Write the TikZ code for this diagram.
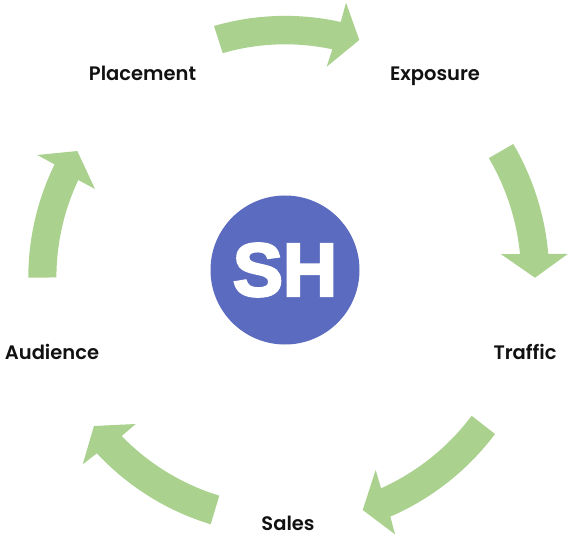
\documentclass[tikz,border=0pt]{standalone}
\usepackage{fontspec}
\setmainfont{Poppins SemiBold}[Ligatures=NoCommon]
\newfontfamily\shfont{Liberation Sans}[BoldFeatures={FakeBold=3.5}]
\definecolor{arrowgreen}{HTML}{AAD28E}
\definecolor{hubblue}{HTML}{5B6BBF}
\definecolor{labelink}{HTML}{111111}
\tikzset{
  cyclearrow/.style={fill=arrowgreen,draw=none},
  steplabel/.style={text=labelink,font=\fontsize{19.5}{24}\selectfont,inner sep=0pt,anchor=base},
  hub/.style={circle,fill=hubblue,draw=none,minimum size=149pt,inner sep=0pt,text=white,font=\shfont\fontsize{75}{80}\selectfont\bfseries}
}
\begin{document}
\begin{tikzpicture}[x=1pt,y=-1pt]
\useasboundingbox (0,0) rectangle (570,540);
\fill[white] (0,0) rectangle (570,540);
% top arrow, centre (285,270)
\fill[cyclearrow] (214,26) arc[start angle=253.8,end angle=282.6,radius=255]
  -- (346,2.7) -- (359.3,40) -- (326.7,66.7) -- (332.3,49.3)
  arc[start angle=282.1,end angle=253.9,radius=225] -- cycle;
% right arrow, centre (286,277)
\fill[cyclearrow] (513.3,144) arc[start angle=-30.3,end angle=-5,radius=263.3]
  -- (567.7,254) -- (535,277.7) -- (500.7,254) -- (520,254)
  arc[start angle=-5.6,end angle=-30.4,radius=234.8] -- cycle;
% lower right arrow
\fill[cyclearrow] (495,434) arc[start angle=36.9,end angle=66.5,radius=261]
  -- (395,534.3) -- (362.7,510) -- (375.7,470) -- (381,488.3)
  arc[start angle=65.8,end angle=36.9,radius=232.6] -- cycle;
% lower left arrow
\fill[cyclearrow] (210.7,524.3) arc[start angle=106.9,end angle=137,radius=258.3]
  -- (82.7,464.3) -- (94,426) -- (135.7,424) -- (121.7,436)
  arc[start angle=135.9,end angle=107,radius=229.2] -- cycle;
% left arrow
\fill[cyclearrow] (28.3,277.7) arc[start angle=180,end angle=206.1,radius=257.5]
  -- (37.3,155) -- (77.3,151) -- (95,189) -- (78.3,180)
  arc[start angle=205.3,end angle=180,radius=228] -- cycle;
\node[hub] (center) at (285,270) {SH};
\node[steplabel] (placement) at (142.5,81) {Placement};
\node[steplabel] (exposure) at (435,81) {Exposure};
\node[steplabel] (traffic) at (525,359) {Traffic};
\node[steplabel] (audience) at (52,359) {Audience};
\node[steplabel] (sales) at (288,530) {Sales};
\end{tikzpicture}
\end{document}
